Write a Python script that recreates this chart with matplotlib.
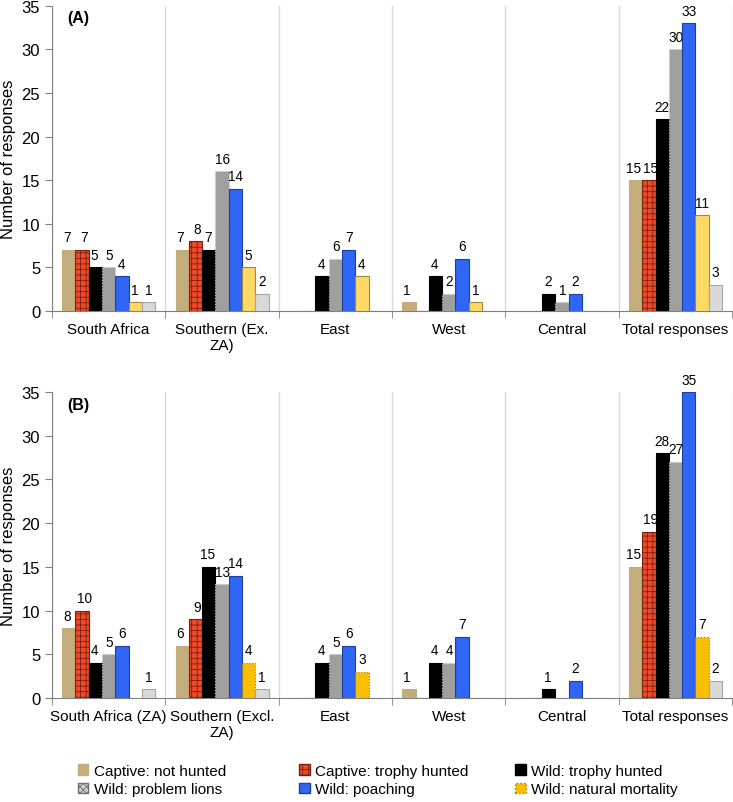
import numpy as np
import matplotlib.pyplot as plt
from matplotlib.patches import Patch

plt.rcParams['font.family'] = ['Liberation Sans', 'DejaVu Sans']
plt.rcParams['hatch.linewidth'] = 0.6

# categories for each panel
regions_a = ["South Africa", "Southern (Ex.\nZA)", "East", "West", "Central", "Total responses"]
regions_b = ["South Africa (ZA)", "Southern (Excl.\nZA)", "East", "West", "Central", "Total responses"]

series = ["Captive: not hunted", "Captive: trophy hunted", "Wild: trophy hunted",
          "Wild: problem lions", "Wild: poaching", "Wild: natural mortality"]

# panel A values, one list per series (per region)
a_captive_not = [7, 7, 0, 1, 0, 15]
a_captive_trophy = [7, 8, 0, 0, 0, 15]
a_wild_trophy = [5, 7, 4, 4, 2, 22]
a_problem = [5, 16, 6, 2, 1, 30]
a_poaching = [4, 14, 7, 6, 2, 33]
a_natural = [1, 5, 4, 1, 0, 11]
a_other = [1, 2, 0, 0, 0, 3]

# panel B values
b_captive_not = [8, 6, 0, 1, 0, 15]
b_captive_trophy = [10, 9, 0, 0, 0, 19]
b_wild_trophy = [4, 15, 4, 4, 1, 28]
b_problem = [5, 13, 5, 4, 0, 27]
b_poaching = [6, 14, 6, 7, 2, 35]
b_natural = [0, 4, 3, 0, 0, 7]
b_other = [1, 1, 0, 0, 0, 2]

# bar styles: facecolor, edgecolor, linestyle, hatch
styles = [
    dict(color="#c4ad7d", edgecolor="#c4ad7d", linestyle="-", hatch=None),
    dict(color="#ee4a2a", edgecolor="#7a2010", linestyle="-", hatch="+++"),
    dict(color="black", edgecolor="black", linestyle="-", hatch=None),
    dict(color="#9f9f9f", edgecolor="#c8c8c8", linestyle=":", hatch=None),
    dict(color="#2f66f5", edgecolor="#1f3fa0", linestyle="-", hatch=None),
    None,  # yellow differs per panel
    dict(color="#d9d9d9", edgecolor="#a6a6a6", linestyle="-", hatch=None),
]
yellow_a = dict(color="#ffd966", edgecolor="#a08a40", linestyle="-", hatch=None)
yellow_b = dict(color="#fbbf00", edgecolor="#9a7a20", linestyle=":", hatch=None)

# small sideways nudge of value labels (points) so neighbours don't collide
label_dx = [-1.5, 1.5, -0.5, 0.5, 0, 0, 0]


def draw_panel(ax, labels, data, yellow, tag):
	x = np.arange(len(labels))
	n = len(data)
	w = 0.82 / n
	for i, vals in enumerate(data):
		st = styles[i] if styles[i] is not None else yellow
		vals = np.array(vals, dtype=float)
		pos = x - 0.41 + w * (i + 0.5)
		bars = ax.bar(pos, vals, w, color=st["color"], edgecolor=st["edgecolor"],
		              linewidth=0.8, linestyle=st["linestyle"], hatch=st["hatch"], zorder=3)
		txt = [str(int(v)) if v > 0 else "" for v in vals]
		anns = ax.bar_label(bars, labels=txt, padding=4, fontsize=9.8)
		for a in anns:
			a.xyann = (label_dx[i], 4)
	ax.set_xlim(-0.5, len(labels) - 0.5)
	ax.set_ylim(0, 35)
	ax.set_yticks(range(0, 36, 5))
	ax.set_xticks(x)
	ax.set_xticklabels(labels, fontsize=11)
	ax.set_xticks(np.arange(len(labels) + 1) - 0.5, minor=True)
	ax.tick_params(axis="x", which="major", length=0, pad=8)
	ax.tick_params(axis="x", which="minor", length=5, color="#808080")
	ax.tick_params(axis="y", length=5, color="#808080", labelsize=12)
	ax.grid(True, axis="x", which="minor", color="#d9d9d9", linewidth=1, zorder=0)
	for s in ["top", "right"]:
		ax.spines[s].set_visible(False)
	for s in ["left", "bottom"]:
		ax.spines[s].set_color("#808080")
	ax.set_ylabel("Number of responses", fontsize=12, labelpad=4)
	ax.text(0.022, 0.985, tag, transform=ax.transAxes, fontsize=11.5,
	        fontweight="bold", va="top", ha="left")


fig = plt.figure(figsize=(7.33, 8.03), dpi=100)
ax_a = fig.add_axes([0.0709, 0.6115, 0.928, 0.380])
ax_b = fig.add_axes([0.0709, 0.1295, 0.928, 0.381])

data_a = [a_captive_not, a_captive_trophy, a_wild_trophy, a_problem, a_poaching, a_natural, a_other]
data_b = [b_captive_not, b_captive_trophy, b_wild_trophy, b_problem, b_poaching, b_natural, b_other]

draw_panel(ax_a, regions_a, data_a, yellow_a, "(A)")
draw_panel(ax_b, regions_b, data_b, yellow_b, "(B)")

# legend: 3 columns x 2 rows, each column its own legend
handles = [
	Patch(facecolor=styles[0]["color"], edgecolor=styles[0]["edgecolor"], label=series[0]),
	Patch(facecolor=styles[1]["color"], edgecolor=styles[1]["edgecolor"], hatch="+++", label=series[1]),
	Patch(facecolor="black", edgecolor="black", label=series[2]),
	Patch(facecolor="#d0d0d0", edgecolor="#707070", hatch="xxxxx", label=series[3]),
	Patch(facecolor=styles[4]["color"], edgecolor=styles[4]["edgecolor"], label=series[4]),
	Patch(facecolor=yellow_b["color"], edgecolor=yellow_b["edgecolor"], linestyle=":", label=series[5]),
]
col_x = [0.106, 0.408, 0.703]
for c in range(3):
	fig.legend(handles=[handles[c], handles[c + 3]], loc="upper left",
	           bbox_to_anchor=(col_x[c], 0.0475), frameon=False,
	           fontsize=11, handlelength=0.7, handleheight=0.7,
	           handletextpad=0.35, labelspacing=0.3, borderpad=0, borderaxespad=0)

plt.savefig("out.png", dpi=100)
